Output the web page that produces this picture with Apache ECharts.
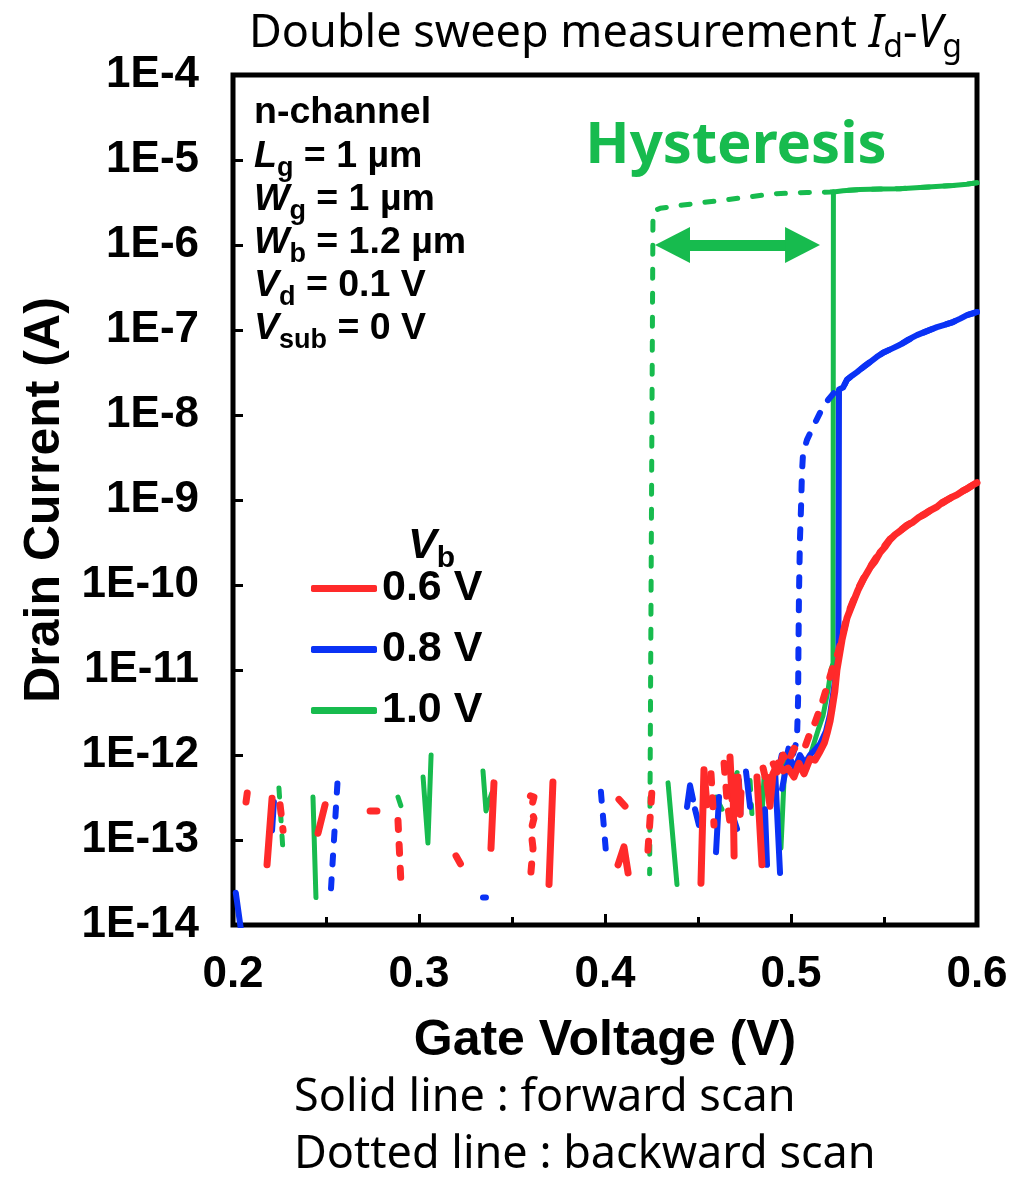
<!DOCTYPE html>
<html>
<head>
<meta charset="utf-8">
<title>Double sweep Id-Vg</title>
<script src="https://cdn.jsdelivr.net/npm/echarts@6.0.0/dist/echarts.min.js"></script>
<style>
  html, body { margin: 0; padding: 0; background: #fff; }
  #chart { width: 1013px; height: 1182px; }
</style>
</head>
<body>
<div id="chart"></div>
<script>
// Body bias values shown in the legend
const vbLabels = ['0.6 V', '0.8 V', '1.0 V'];
const vbColors = ['#ff2a2a', '#0a32f5', '#17bb4e'];

// Axis ranges / ticks
const vgRange = [0.2, 0.6];
const vgStep = 0.1;
const idRange = [1e-14, 1e-4];
const idDecadeStep = 1;

// Measured curves: each entry is a list of fragments [[Vg (V), Id (A)], ...].
// Gaps between fragments are points that could not be shown on the log scale.
const red06Fwd = [
  [[0.2183, 5.1e-14], [0.2210, 3.1e-13]],
  [[0.2457, 1.2e-13], [0.2495, 2.6e-13]],
  [[0.3387, 8.0e-14], [0.3403, 4.7e-13]],
  [[0.3699, 3.0e-14], [0.3720, 4.8e-13]],
  [[0.4070, 5.1e-14], [0.4102, 8.3e-14], [0.4124, 4.1e-14]],
  [[0.4516, 3.1e-14], [0.4532, 6.7e-13], [0.4548, 2.6e-13]],
  [[0.4672, 9.5e-13], [0.4683, 3.0e-13], [0.4688, 5.5e-13], [0.4694, 6.5e-14]],
  [[0.4715, 5.5e-13], [0.4726, 2.0e-13], [0.4731, 3.6e-13]],
  [[0.4817, 5.5e-13], [0.4830, 1.8e-13], [0.4844, 5.1e-14]],
  [[0.4871, 4.7e-13], [0.4887, 2.5e-13], [0.4903, 6.0e-13], [0.4930, 8.0e-13], [0.4957, 6.5e-13],
   [0.4984, 7.0e-13], [0.5016, 5.5e-13], [0.5043, 8.0e-13], [0.5070, 6.0e-13], [0.5102, 9.0e-13],
   [0.5129, 8.7e-13], [0.5156, 1.1e-12], [0.5180, 1.4e-12], [0.5194, 1.8e-12], [0.5210, 2.5e-12],
   [0.5220, 3.4e-12], [0.5235, 5.5e-12], [0.5247, 1.0e-11], [0.5274, 2.25e-11], [0.5301, 4.1e-11],
   [0.5328, 5.8e-11], [0.5360, 8.7e-11], [0.5392, 1.2e-10], [0.5425, 1.6e-10], [0.5452, 1.9e-10],
   [0.5478, 2.4e-10], [0.5505, 2.8e-10], [0.5532, 3.4e-10], [0.5559, 3.9e-10], [0.5586, 4.3e-10],
   [0.5620, 5.0e-10], [0.5656, 5.5e-10], [0.5690, 6.3e-10], [0.5720, 6.8e-10], [0.5752, 7.6e-10],
   [0.5785, 8.3e-10], [0.5812, 9.3e-10], [0.5839, 1.0e-9], [0.5866, 1.08e-9], [0.5892, 1.15e-9],
   [0.5920, 1.26e-9], [0.5946, 1.35e-9], [0.5973, 1.48e-9], [0.6000, 1.6e-9]]
];

const red06Bwd = [
  [[0.2070, 2.8e-13], [0.2081, 4.2e-13]],
  [[0.2253, 2.6e-13], [0.2269, 1.3e-13]],
  [[0.2737, 2.2e-13], [0.2774, 2.2e-13]],
  [[0.2887, 1.7e-13], [0.2903, 3.1e-14]],
  [[0.3199, 6.5e-14], [0.3226, 5.1e-14]],
  [[0.3599, 3.3e-13], [0.3618, 3.2e-13], [0.3602, 2.3e-13], [0.3618, 1.8e-13], [0.3602, 1.3e-13],
   [0.3613, 8.0e-14], [0.3602, 4.2e-14]],
  [[0.4075, 3.0e-13], [0.4108, 2.5e-13]],
  [[0.4231, 7.6e-14], [0.4253, 4.0e-13]],
  [[0.4570, 6.0e-13], [0.4586, 1.5e-13]],
  [[0.4640, 8.0e-13], [0.4656, 3.0e-13], [0.4672, 1.6e-13]],
  [[0.4850, 7.0e-13], [0.4876, 4.0e-13], [0.4903, 8.0e-13], [0.4930, 6.0e-13], [0.4957, 1.0e-12],
   [0.4984, 8.0e-13], [0.5016, 1.2e-12], [0.5048, 1.1e-12], [0.5075, 1.24e-12], [0.5102, 1.8e-12],
   [0.5129, 2.4e-12], [0.5167, 4.1e-12], [0.5199, 7.0e-12], [0.5226, 1.1e-11], [0.5253, 1.6e-11],
   [0.5274, 2.4e-11], [0.5301, 4.3e-11], [0.5328, 6.0e-11], [0.5360, 8.9e-11], [0.5392, 1.22e-10],
   [0.5425, 1.62e-10], [0.5478, 2.45e-10], [0.5532, 3.45e-10], [0.5586, 4.35e-10], [0.5656, 5.6e-10],
   [0.5720, 6.9e-10], [0.5785, 8.4e-10], [0.5839, 1.0e-9], [0.5892, 1.16e-9], [0.5946, 1.36e-9],
   [0.6000, 1.6e-9]]
];

const blue08Fwd = [
  [[0.2015, 2.4e-14], [0.2049, 7.0e-15]],
  [[0.2210, 1.3e-13], [0.2220, 2.8e-13]],
  [[0.4441, 2.45e-13], [0.4457, 4.4e-13], [0.4473, 3.0e-13]],
  [[0.4484, 2.3e-13], [0.4505, 1.5e-13]],
  [[0.4597, 7.2e-14], [0.4613, 3.2e-13]],
  [[0.4688, 1.9e-13], [0.4710, 1.35e-13]],
  [[0.4758, 6.4e-13], [0.4780, 2.45e-13]],
  [[0.4860, 2.3e-13], [0.4871, 5.1e-14]],
  [[0.4914, 6.8e-13], [0.4941, 4.1e-14]],
  [[0.4952, 4.0e-13], [0.4973, 7.0e-13], [0.4995, 9.0e-13], [0.5022, 7.0e-13], [0.5048, 1.0e-12],
   [0.5075, 8.0e-13], [0.5102, 1.0e-12], [0.5129, 1.15e-12], [0.5156, 1.35e-12], [0.5188, 1.9e-12],
   [0.5210, 3.0e-12], [0.5237, 7.5e-12], [0.5255, 1.4e-11], [0.5258, 2.0e-8], [0.5280, 2.1e-8],
   [0.5301, 2.6e-8], [0.5328, 2.9e-8], [0.5355, 3.2e-8], [0.5390, 3.7e-8], [0.5425, 4.2e-8],
   [0.5460, 4.8e-8], [0.5495, 5.4e-8], [0.5540, 6.0e-8], [0.5586, 6.7e-8], [0.5630, 7.7e-8],
   [0.5677, 8.7e-8], [0.5730, 9.7e-8], [0.5785, 1.08e-7], [0.5830, 1.16e-7], [0.5871, 1.24e-7],
   [0.5910, 1.36e-7], [0.5946, 1.5e-7], [0.5975, 1.56e-7], [0.6000, 1.63e-7]]
];

const blue08Bwd = [
  [[0.2527, 2.7e-14], [0.2565, 6.2e-13]],
  [[0.3344, 2.1e-14], [0.3360, 2.1e-14]],
  [[0.3978, 3.7e-13], [0.4005, 7.3e-14]],
  [[0.4720, 5.0e-13], [0.4731, 1.5e-13]],
  [[0.6000, 1.63e-7], [0.5946, 1.5e-7], [0.5871, 1.24e-7], [0.5785, 1.08e-7], [0.5677, 8.7e-8],
   [0.5586, 6.7e-8], [0.5495, 5.4e-8], [0.5425, 4.2e-8], [0.5355, 3.2e-8], [0.5301, 2.6e-8],
   [0.5280, 2.1e-8], [0.5247, 2.0e-8], [0.5199, 1.5e-8], [0.5156, 1.06e-8], [0.5118, 7.2e-9],
   [0.5086, 5.1e-9], [0.5065, 3.6e-9], [0.5059, 2.1e-9], [0.5054, 8.3e-10], [0.5048, 3.4e-10],
   [0.5043, 8.0e-11], [0.5040, 1.7e-11], [0.5038, 4.4e-12], [0.5032, 1.5e-12], [0.5010, 1.0e-12],
   [0.4990, 1.3e-12], [0.4970, 8.0e-13], [0.4950, 1.0e-12], [0.4930, 6.0e-13]]
];

const green10Fwd = [
  [[0.2430, 3.2e-13], [0.2446, 2.1e-14]],
  [[0.3022, 5.5e-13], [0.3048, 9.2e-14], [0.3065, 1.0e-12]],
  [[0.3344, 6.5e-13], [0.3360, 2.2e-13], [0.3392, 3.6e-13]],
  [[0.4339, 4.7e-13], [0.4387, 3.0e-14]],
  [[0.4597, 3.2e-13], [0.4629, 2.3e-13]],
  [[0.4688, 4.7e-13], [0.4710, 6.2e-13]],
  [[0.4855, 5.5e-13], [0.4839, 1.2e-13]],
  [[0.4968, 9.5e-13], [0.4946, 8.0e-14]],
  [[0.5070, 6.0e-13], [0.5086, 7.0e-13], [0.5110, 1.1e-12], [0.5129, 1.5e-12], [0.5150, 2.1e-12],
   [0.5172, 2.9e-12], [0.5199, 5.8e-12], [0.5215, 1.0e-11], [0.5226, 1.2e-11], [0.5228, 4.2e-6],
   [0.5280, 4.35e-6], [0.5371, 4.5e-6], [0.5478, 4.55e-6], [0.5586, 4.6e-6], [0.5694, 4.75e-6],
   [0.5801, 4.9e-6], [0.5871, 5.0e-6], [0.5946, 5.2e-6], [0.6000, 5.4e-6]]
];

const green10Bwd = [
  [[0.2247, 4.1e-13], [0.2269, 7.3e-14]],
  [[0.2887, 3.2e-13], [0.2909, 2.3e-13]],
  [[0.4780, 5.0e-13], [0.4790, 2.0e-13]],
  [[0.6000, 5.4e-6], [0.5946, 5.2e-6], [0.5871, 5.0e-6], [0.5801, 4.9e-6], [0.5694, 4.75e-6],
   [0.5586, 4.6e-6], [0.5478, 4.55e-6], [0.5371, 4.5e-6], [0.5280, 4.35e-6], [0.5210, 4.2e-6],
   [0.5086, 4.15e-6], [0.4903, 4.0e-6], [0.4726, 3.57e-6], [0.4548, 3.2e-6], [0.4419, 2.95e-6],
   [0.4296, 2.7e-6], [0.4258, 2.5e-6], [0.4253, 2.4e-6], [0.4240, 4.0e-14]]
];

// Hysteresis window marker (gate voltages at the arrow ends, current level of the arrow)
const hysteresisArrow = { vgFrom: 0.4363, vgTo: 0.5062, id: 1e-6 };

// Flatten fragments into a single line with breaks between them
function toLine(frags) {
  const out = [];
  frags.forEach((frag, k) => {
    if (k > 0) out.push([frag[0][0], null]);
    frag.forEach(p => out.push(p));
  });
  return out;
}

const SANS = 'Liberation Sans, Arial, sans-serif';
const TITLE_FONT = 'Noto Sans, Open Sans, sans-serif';

function lineSeries(name, color, frags, dashed, width) {
  return {
    name: name,
    type: 'line',
    data: toLine(frags),
    showSymbol: false,
    symbol: 'none',
    connectNulls: false,
    clip: true,
    silent: true,
    itemStyle: { color: color },
    lineStyle: {
      color: color,
      width: width,
      type: dashed ? [9, 15] : 'solid',
      cap: 'round',
      join: 'round'
    }
  };
}

const greenFwd = lineSeries(vbLabels[2], vbColors[2], green10Fwd, false, 5);
greenFwd.markLine = {
  silent: true,
  symbol: ['triangle', 'triangle'],
  symbolSize: [36, 35],
  label: { show: false },
  lineStyle: { color: vbColors[2], width: 11, type: 'solid', cap: 'butt' },
  data: [[
    { coord: [hysteresisArrow.vgFrom, hysteresisArrow.id] },
    { coord: [hysteresisArrow.vgTo, hysteresisArrow.id] }
  ]]
};

const series = [
  greenFwd,
  lineSeries(vbLabels[2], vbColors[2], green10Bwd, true, 5),
  lineSeries(vbLabels[1], vbColors[1], blue08Fwd, false, 6),
  lineSeries(vbLabels[1], vbColors[1], blue08Bwd, true, 6),
  lineSeries(vbLabels[0], vbColors[0], red06Fwd, false, 7),
  lineSeries(vbLabels[0], vbColors[0], red06Bwd, true, 7)
];

// Rich-text styles for labels with italic symbols and subscripts
function richStyles(font, size, weight, subSize, lineH, color) {
  return {
    n: { fontFamily: font, fontSize: size, fontWeight: weight, lineHeight: lineH, color: color },
    i: { fontFamily: font, fontSize: size, fontWeight: weight, fontStyle: 'italic', lineHeight: lineH, color: color },
    s: { fontFamily: font, fontSize: subSize, fontWeight: weight, lineHeight: 20, verticalAlign: 'bottom', color: color }
  };
}

function richText(x, y, text, rich) {
  return {
    type: 'text',
    x: x,
    y: y,
    silent: true,
    style: { text: text, rich: rich, align: 'left', verticalAlign: 'middle' }
  };
}

const paramRich = richStyles(SANS, 37.5, 'bold', 27, 51, '#000');
const titleRich = richStyles(TITLE_FONT, 45, 'normal', 32, 60, '#000');
const legendRich = richStyles(SANS, 43, 'bold', 30, 56, '#000');

const deviceParams = [
  '{n|n-channel}',
  '{i|L}{s|g}{n| = 1 µm}',
  '{i|W}{s|g}{n| = 1 µm}',
  '{i|W}{s|b}{n| = 1.2 µm}',
  '{i|V}{s|d}{n| = 0.1 V}',
  '{i|V}{s|sub}{n| = 0 V}'
];

const graphics = [
  richText(249, 34, '{n|Double sweep measurement }{i|I}{s|d}{n|-}{i|V}{s|g}', titleRich),
  richText(408, 546, '{i|V}{s|b}', legendRich),
  {
    type: 'text', x: 736, y: 146, silent: true,
    style: {
      text: 'Hysteresis', align: 'center', verticalAlign: 'middle',
      fontFamily: TITLE_FONT, fontSize: 58, fontWeight: 'bold', fill: vbColors[2]
    }
  },
  {
    type: 'text', x: 294, y: 1098, silent: true,
    style: { text: 'Solid line : forward scan', align: 'left', verticalAlign: 'middle',
      fontFamily: TITLE_FONT, fontSize: 45, fill: '#000' }
  },
  {
    type: 'text', x: 294, y: 1155, silent: true,
    style: { text: 'Dotted line : backward scan', align: 'left', verticalAlign: 'middle',
      fontFamily: TITLE_FONT, fontSize: 45, fill: '#000' }
  }
];
deviceParams.forEach((t, k) => graphics.push(richText(254, 113 + k * 43.2, t, paramRich)));

const chart = echarts.init(document.getElementById('chart'), null, { renderer: 'canvas' });
chart.setOption({
  animation: false,
  backgroundColor: '#fff',
  grid: {
    left: 233, right: 36, top: 75, bottom: 257,
    show: true, borderColor: '#000', borderWidth: 5, backgroundColor: 'transparent'
  },
  legend: {
    data: vbLabels,
    orient: 'vertical',
    left: 306,
    top: 562,
    icon: 'roundRect',
    itemWidth: 66,
    itemHeight: 7,
    itemGap: 18,
    selectedMode: false,
    textStyle: { fontFamily: SANS, fontSize: 43, fontWeight: 'bold', color: '#000', lineHeight: 42 }
  },
  xAxis: {
    type: 'value',
    min: vgRange[0],
    max: vgRange[1],
    interval: vgStep,
    axisLine: { show: false },
    axisTick: { show: true, inside: true, length: 11, lineStyle: { color: '#000', width: 3 } },
    minorTick: { show: true, splitNumber: 2, length: 8, lineStyle: { color: '#000', width: 3 } },
    splitLine: { show: false },
    axisLabel: {
      margin: 28, color: '#000', fontFamily: SANS, fontSize: 44, fontWeight: 'bold',
      formatter: v => v.toFixed(1)
    },
    name: 'Gate Voltage (V)',
    nameLocation: 'middle',
    nameGap: 91,
    nameTextStyle: { color: '#000', fontFamily: SANS, fontSize: 50, fontWeight: 'bold' }
  },
  yAxis: {
    type: 'log',
    logBase: 10,
    min: idRange[0],
    max: idRange[1],
    interval: idDecadeStep,
    splitNumber: 10,
    axisLine: { show: false },
    axisTick: { show: true, inside: true, length: 10, interval: 0, lineStyle: { color: '#000', width: 3 } },
    splitLine: { show: false },
    axisLabel: {
      margin: 34, color: '#000', fontFamily: SANS, fontSize: 44, fontWeight: 'bold',
      interval: 0, hideOverlap: false,
      formatter: v => '1E' + Math.round(Math.log10(v))
    },
    name: 'Drain Current (A)',
    nameLocation: 'middle',
    nameGap: 158,
    nameTextStyle: { color: '#000', fontFamily: SANS, fontSize: 50, fontWeight: 'bold' }
  },
  graphic: graphics,
  series: series
});
</script>
</body>
</html>
